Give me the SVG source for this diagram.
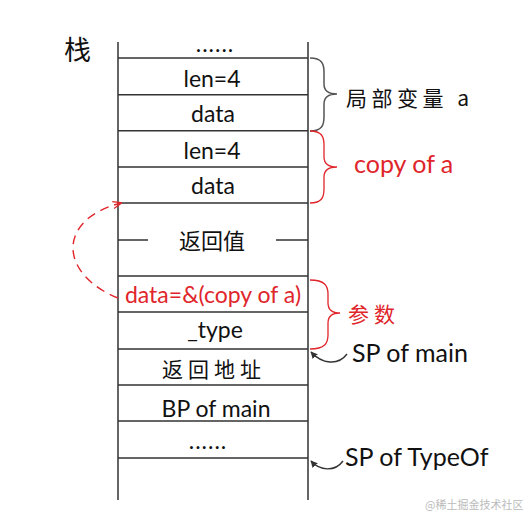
<svg xmlns="http://www.w3.org/2000/svg" width="527" height="515" viewBox="0 0 527 515">
<defs>
<style>
.ln{stroke:#333;stroke-width:1.5;fill:none}
.t{font-family:Lato,"Noto Sans",sans-serif;font-size:23px;fill:#111;text-anchor:middle}
.cjk{font-family:"Noto Sans CJK SC",sans-serif;font-size:21px;fill:#111}
.lbl{font-family:Lato,"Noto Sans",sans-serif;font-size:25px;fill:#111}
.brk{stroke:#555;stroke-width:1.5;fill:none}
.brr{stroke:#e0252b;stroke-width:1.3;fill:none}
.r{fill:#e0252b}
</style>
<marker id="ah" viewBox="0 0 10 10" refX="9" refY="5" markerWidth="7" markerHeight="7" orient="auto" markerUnits="userSpaceOnUse">
<path d="M0,0 L10,5 L0,10 z" fill="#333"/>
</marker>
<marker id="ahr" viewBox="0 0 10 10" refX="9" refY="5" markerWidth="9" markerHeight="9" orient="auto" markerUnits="userSpaceOnUse">
<path d="M0,1 L10,5 L0,9" fill="none" stroke="#e0252b" stroke-width="1.4"/>
</marker>
</defs>
<rect width="527" height="515" fill="#fff"/>

<g id="stack-frame">
<path class="ln" d="M118,42 V500 M308,42 V500"/>
<path class="ln" d="M118,58 H308 M118,94.7 H308 M118,130.7 H308 M118,167 H308 M118,203 H308 M118,276 H308 M118,312 H308 M118,349 H308 M118,385 H308 M118,421 H308 M118,458 H308"/>
<path class="ln" d="M118,240 H148 M276,240 H308"/>
</g>

<g id="title"><text class="cjk" x="64" y="60" style="font-size:27px">栈</text></g>

<g id="cell-top-dots"><text class="t" x="215" y="52" letter-spacing="1">......</text></g>
<g id="cell-len1"><text class="t" x="212" y="86.5">len=4</text></g>
<g id="cell-data1"><text class="t" x="213" y="122">data</text></g>
<g id="cell-len2"><text class="t" x="212" y="158.5">len=4</text></g>
<g id="cell-data2"><text class="t" x="213" y="193.5">data</text></g>
<g id="cell-ret"><text class="cjk" x="212" y="249" text-anchor="middle" style="font-size:22px">返回值</text></g>
<g id="cell-ptr"><text class="t r" x="213" y="303">data=&amp;(copy of a)</text></g>
<g id="cell-type"><text class="t" x="215" y="338">_type</text></g>
<g id="cell-retaddr"><text class="cjk" x="214" y="377" text-anchor="middle" letter-spacing="5">返回地址</text></g>
<g id="cell-bp"><text class="t" x="216" y="416.5">BP of main</text></g>
<g id="cell-bottom-dots"><text class="t" x="208" y="449" letter-spacing="1">......</text></g>

<g id="label-local-a">
<path class="brk" d="M310,58 C322,58 324,64 324,72 L324,84 C324,90 328,94 337,94 C328,94 324,98 324,104 L324,117 C324,125 322,131 310,131"/>
<text class="cjk" x="346" y="106" letter-spacing="4.5">局部变量 a</text>
</g>
<g id="label-copy-a">
<path class="brr" d="M310,131 C322,131 324,137 324,145 L324,157 C324,163 328,167 337,167 C328,167 324,171 324,177 L324,189 C324,197 322,203 310,203"/>
<text class="lbl r" x="354" y="173">copy of a</text>
</g>
<g id="label-params">
<path class="brr" d="M310,280 C325,280 328,286 328,294 L328,303 C328,309 332,313 340,313 C332,313 328,317 328,323 L328,335 C328,343 325,349 310,349"/>
<text class="cjk r" x="348" y="322" letter-spacing="5">参数</text>
</g>
<g id="label-sp-main"><text class="lbl" x="352" y="362">SP of main</text></g>
<g id="label-sp-typeof"><text class="lbl" x="345" y="466">SP of TypeOf</text></g>

<g id="connectors">
<path d="M118,298 C60,275 55,220 121,203" fill="none" stroke="#e0252b" stroke-width="1.4" stroke-dasharray="9,6" marker-end="url(#ahr)"/>
<path d="M347,354 C338,366 322,364 311,352" fill="none" stroke="#333" stroke-width="1.4" marker-end="url(#ah)"/>
<path d="M343,461 C335,472 320,471 311,461" fill="none" stroke="#333" stroke-width="1.4" marker-end="url(#ah)"/>
</g>

<g id="watermark"><text x="425" y="509" font-family="'Noto Sans CJK SC',sans-serif" font-size="11" fill="#bbb">@稀土掘金技术社区</text></g>
</svg>
